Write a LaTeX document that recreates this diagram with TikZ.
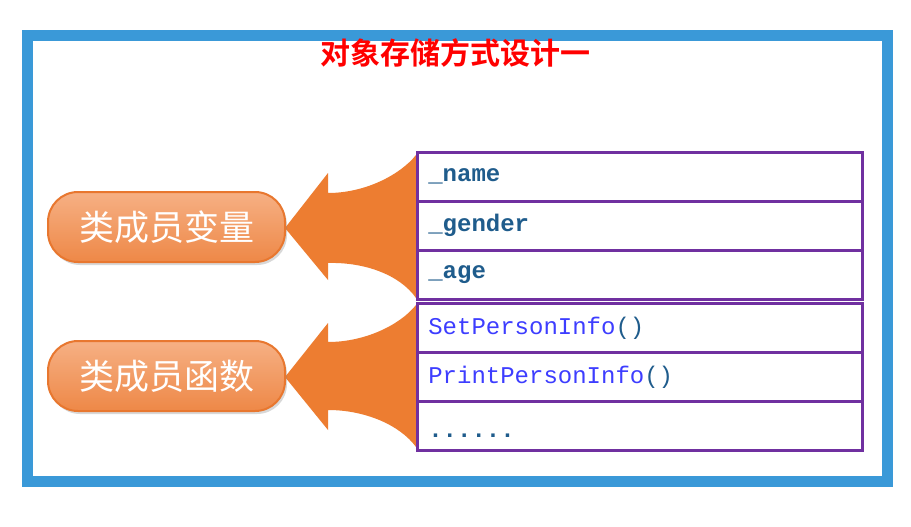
\documentclass[tikz,border=0pt]{standalone}
\usepackage{fontspec}
\newfontfamily\cjk{Noto Sans CJK SC}
\newfontfamily\cjkbold{Noto Sans CJK SC Bold}
\setmonofont{Liberation Mono}
\usetikzlibrary{shadows}
\definecolor{framebl}{HTML}{3A99D8}
\definecolor{arroworg}{HTML}{ED7D31}
\definecolor{pilltop}{HTML}{F6B084}
\definecolor{pillbot}{HTML}{EE8847}
\definecolor{pillborder}{HTML}{E8772F}
\definecolor{cellpurple}{HTML}{7030A0}
\definecolor{vartxt}{HTML}{1F5C8C}
\definecolor{functxt}{HTML}{3D3DFF}
\tikzset{
  cell/.style={draw=cellpurple, line width=2.6pt, fill=white, anchor=north west,
    minimum width=445pt, minimum height=49pt, inner xsep=11pt, text width=423pt,
    align=left, font=\fontsize{24}{24}\selectfont\ttfamily},
  pill/.style={rounded corners=30pt, minimum width=237pt, minimum height=70pt,
    top color=pilltop, bottom color=pillbot, draw=pillborder, line width=2pt,
    text=white, font=\cjk\fontsize{35}{35}\selectfont,
    drop shadow={opacity=0.3, shadow xshift=2pt, shadow yshift=-3pt}},
  bigarrow/.style={fill=arroworg, draw=none},
  titletxt/.style={text=red, font=\cjkbold\fontsize{30}{30}\selectfont}
}
\begin{document}
\begin{tikzpicture}[x=1pt,y=-1pt]
\useasboundingbox (0,0) rectangle (911,527);
\fill[white] (0,0) rectangle (911,527);
% frame
\draw[framebl, line width=11pt] (27.5,35.5) rectangle (887.5,481.5);
% title
\node[titletxt] (title) at (455,53) {对象存储方式设计一};
% arrows
\fill[bigarrow] (285,228) -- (328,173) -- (328,193) .. controls (365,193) and (400,175) .. (416,155)
  -- (416,298) .. controls (400,275) and (365,262) .. (328,263) -- (328,280) -- cycle;
\fill[bigarrow] (285,377) -- (328,323) -- (328,342) .. controls (365,342) and (400,325) .. (416,305)
  -- (416,447) .. controls (400,425) and (365,410) .. (328,410) -- (328,430) -- cycle;
% pills
\node[pill] (vars) at (166.5,227) {类成员变量};
\node[pill] (funcs) at (166.5,376) {类成员函数};
% table
\node[cell] (r1) at (416,151) {\textcolor{vartxt}{\bfseries \_name}};
\node[cell] (r2) at (416,200) {\textcolor{vartxt}{\bfseries \_gender}};
\node[cell] (r3) at (416,249) {\textcolor{vartxt}{\bfseries \_age}};
\node[cell] (r4) at (416,302) {\textcolor{functxt}{SetPersonInfo}\textcolor{vartxt}{()}};
\node[cell] (r5) at (416,351) {\textcolor{functxt}{PrintPersonInfo}\textcolor{vartxt}{()}};
\node[cell] (r6) at (416,400) {\smash{\raisebox{-12pt}{\textcolor{vartxt}{\bfseries ......}}}};
\end{tikzpicture}
\end{document}
